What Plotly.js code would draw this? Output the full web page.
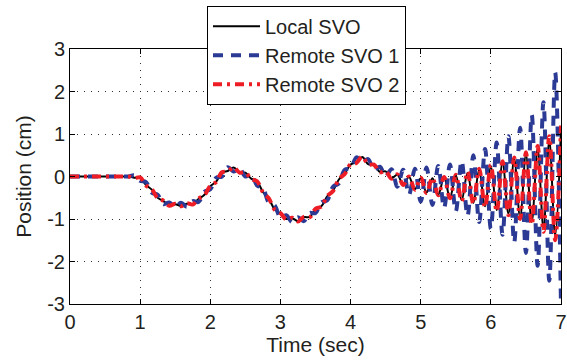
<!DOCTYPE html>
<html>
<head>
<meta charset="utf-8">
<script src="https://cdn.plot.ly/plotly-3.0.1.min.js"></script>
<style>html,body{margin:0;padding:0;background:#fff;}#chart{width:567px;height:362px;}</style>
</head>
<body>
<div id="chart"></div>
<script>
// Time samples (sec)
var time = [0,0.083,0.167,0.25,0.333,0.417,0.5,0.583,0.667,0.75,0.833,0.917,
  1.0,1.083,1.167,1.25,1.333,1.417,1.5,1.583,1.667,1.75,1.833,1.917,
  2.0,2.083,2.167,2.25,2.333,2.417,2.5,2.583,2.667,2.75,2.833,2.917,
  3.0,3.083,3.167,3.25,3.333,3.417,3.5,3.583,3.667,3.75,3.833,3.917,
  4.0,4.083,4.167,4.25,4.333,4.417,4.5,4.583,4.667,4.75,4.833,4.917,
  5.0,5.083,5.167,5.25,5.333,5.417,5.5,5.583,5.667,5.75,5.833,5.917,
  6.0,6.083,6.167,6.25,6.333,6.417,6.5,6.583,6.667,6.75,6.833,6.917,7.0];

// Local SVO position (cm)
var localSVO = [0,0,0,0,0,0,0,0,0,0,0,-0.03,
  -0.03,-0.20,-0.31,-0.50,-0.58,-0.68,-0.65,-0.69,-0.64,-0.65,-0.53,-0.43,
  -0.23,-0.12,0.09,0.13,0.21,0.10,0.09,-0.05,-0.12,-0.36,-0.52,-0.77,
  -0.87,-1.00,-0.98,-1.05,-0.96,-0.95,-0.77,-0.70,-0.47,-0.33,-0.07,0.07,
  0.28,0.33,0.46,0.29,0.27,0.11,0.12,-0.04,0.04,-0.19,-0.01,-0.30,
  -0.04,-0.38,-0.04,-0.43,-0.02,-0.50,0.03,-0.56,0.09,-0.62,0.16,-0.70,
  0.25,-0.79,0.33,-0.87,0.41,-0.96,0.51,-1.07,0.66,-1.22,0.85,-1.40,1.15];

// Remote SVO 1 position (cm)
var remoteSVO1 = [0,0,0,0,0,0,0,0,0,0,0,0.03,
  -0.10,-0.13,-0.38,-0.43,-0.65,-0.61,-0.72,-0.62,-0.71,-0.58,-0.60,-0.36,
  -0.30,-0.03,0.00,0.22,0.12,0.19,0.00,0.04,-0.21,-0.27,-0.61,-0.68,
  -0.96,-0.91,-1.07,-0.96,-1.05,-0.86,-0.86,-0.61,-0.56,-0.24,-0.16,0.16,
  0.19,0.45,0.34,0.41,0.15,0.23,0.00,0.17,-0.24,0.16,-0.43,0.18,
  -0.59,0.21,-0.67,0.25,-0.74,0.28,-0.82,0.37,-0.93,0.50,-1.07,0.65,
  -1.23,0.80,-1.37,0.95,-1.55,1.15,-1.80,1.45,-2.10,1.75,-2.45,2.45,-3.05];

// Remote SVO 2 position (cm)
var remoteSVO2 = [0,0,0,0,0,0,0,0,0,0,0,-0.04,
  -0.02,-0.21,-0.30,-0.51,-0.57,-0.69,-0.64,-0.70,-0.63,-0.66,-0.52,-0.44,
  -0.22,-0.13,0.10,0.12,0.22,0.09,0.10,-0.06,-0.11,-0.37,-0.51,-0.78,
  -0.86,-1.01,-0.97,-1.06,-0.95,-0.96,-0.76,-0.71,-0.46,-0.34,-0.06,0.06,
  0.29,0.32,0.47,0.28,0.28,0.10,0.13,-0.05,0.05,-0.20,0.00,-0.31,
  -0.03,-0.39,-0.03,-0.44,-0.01,-0.51,0.04,-0.58,0.11,-0.64,0.18,-0.72,
  0.27,-0.82,0.36,-0.91,0.45,-1.00,0.57,-1.13,0.72,-1.30,0.95,-1.50,1.20];

var seriesNames = ['Local SVO', 'Remote SVO 1', 'Remote SVO 2'];
var xTicks = [0,1,2,3,4,5,6,7];
var xTickText = ['0','1','2','3','4','5','6','7'];
var yTicks = [-3,-2,-1,0,1,2,3];
var yTickText = ['-3','-2','-1','0','1','2','3'];

var FONT = "'Liberation Sans', Arial, sans-serif";
var TXT = '#231f20';

var traces = [
  {x: time, y: localSVO, name: seriesNames[0], type: 'scatter', mode: 'lines',
   line: {color: '#000000', width: 2, shape: 'spline', smoothing: 1}},
  {x: time, y: remoteSVO1, name: seriesNames[1], type: 'scatter', mode: 'lines',
   line: {color: '#2b3a94', width: 4, dash: '10px,8px', shape: 'spline', smoothing: 1}},
  {x: time, y: remoteSVO2, name: seriesNames[2], type: 'scatter', mode: 'lines',
   line: {color: '#ee1c25', width: 4, dash: '9px,5px,3px,5px', shape: 'spline', smoothing: 1}}
];

var axisCommon = {
  showline: true, linecolor: '#000', linewidth: 1, mirror: 'ticks',
  ticks: 'inside', ticklen: 5, tickcolor: '#000', tickwidth: 1,
  showgrid: true, gridcolor: '#333', gridwidth: 1, griddash: '1px,6px',
  zeroline: false, tickfont: {family: FONT, size: 20, color: TXT}
};

var layout = {
  width: 567, height: 362,
  margin: {l: 70, r: 6, t: 49, b: 58, pad: 0},
  paper_bgcolor: '#fff', plot_bgcolor: '#fff',
  font: {family: FONT, color: TXT},
  xaxis: Object.assign({}, axisCommon, {
    range: [0, 7], tickmode: 'array', tickvals: xTicks, ticktext: xTickText,
    title: {text: 'Time (sec)', font: {family: FONT, size: 21, color: TXT}, standoff: 4}
  }),
  yaxis: Object.assign({}, axisCommon, {
    range: [-3, 3], tickmode: 'array', tickvals: yTicks, ticktext: yTickText,
    title: {text: 'Position (cm)', font: {family: FONT, size: 21, color: TXT}, standoff: 9}
  }),
  showlegend: true,
  legend: {
    x: 0.279, y: 1.17, xanchor: 'left', yanchor: 'top',
    bgcolor: '#fff', bordercolor: '#000', borderwidth: 1,
    font: {family: FONT, size: 20, color: TXT},
    itemwidth: 47, tracegroupgap: 0
  }
};

Plotly.newPlot('chart', traces, layout, {staticPlot: true, displayModeBar: false});
</script>
</body>
</html>
